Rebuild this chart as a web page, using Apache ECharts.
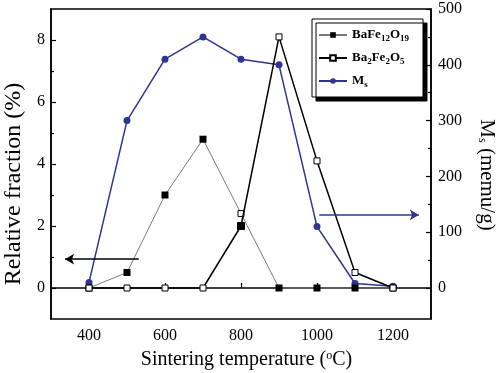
<!DOCTYPE html>
<html>
<head>
<meta charset="utf-8">
<script src="https://cdn.jsdelivr.net/npm/echarts@6/dist/echarts.min.js"></script>
<style>html,body{margin:0;padding:0;background:#fff}#c{width:500px;height:373px}</style>
</head>
<body>
<div id="c"></div>
<script>
// ---- data ----
const temps = [400, 500, 600, 700, 800, 900, 1000, 1100, 1200];
const baFe12O19 = [0, 0.5, 3.0, 4.8, 2.4, 0, 0, 0, 0];
const ba2Fe2O5 = [0, 0, 0, 0, 2.0, 8.1, 4.1, 0.5, 0];
const msValues = [10, 300, 410, 450, 410, 400, 110, 8, 3];
const seriesNames = ['BaFe12O19', 'Ba2Fe2O5', 'Ms'];
const xTicks = [400, 600, 800, 1000, 1200];
const xMinorTicks = [500, 700, 900, 1100];
const leftTicks = [0, 2, 4, 6, 8];
const leftMinorTicks = [1, 3, 5, 7];
const rightTicks = [0, 100, 200, 300, 400, 500];
const rightMinorTicks = [50, 150, 250, 350, 450];
// annotation arrows (data units): [x0, x1, y]
const leftArrow = [531, 337, 0.93];
const rightArrow = [1006, 1268, 131];

const FONT = 'Liberation Serif, Times New Roman, serif';
const BLUE = '#2f3490';
const swapIdx = 4; // markers at 800 drawn swapped in the reference

function pairs(vals, override) {
  return temps.map((t, i) => {
    if (override && i === swapIdx) return Object.assign({ value: [t, vals[i]] }, override);
    return [t, vals[i]];
  });
}

const legendLabels = {
  'BaFe12O19': 'BaFe{s|12}O{s|19}',
  'Ba2Fe2O5': 'Ba{s|2}Fe{s|2}O{s|5}',
  'Ms': 'M{s|s}'
};

const axisLine = { show: true, lineStyle: { color: '#000', width: 1.5 } };
const labelStyle = { color: '#000', fontFamily: FONT, fontSize: 16, formatter: v => String(Math.round(v)) };

const chart = echarts.init(document.getElementById('c'), null, { renderer: 'canvas' });
chart.setOption({
  animation: false,
  backgroundColor: '#fff',
  grid: { left: 51, right: 69, top: 9, bottom: 54, outerBoundsMode: 'none', containLabel: false,
    show: true, borderColor: '#000', borderWidth: 1.5, backgroundColor: 'transparent' },
  legend: {
    orient: 'vertical', left: 312, top: 19,
    itemWidth: 28, itemHeight: 7, itemGap: 7,
    padding: [8, 14, 8, 6],
    backgroundColor: '#fff', borderColor: '#000', borderWidth: 1,
    shadowColor: '#000', shadowOffsetX: 4, shadowOffsetY: 4, shadowBlur: 0,
    data: seriesNames,
    formatter: n => legendLabels[n],
    textStyle: {
      color: '#000', fontFamily: FONT, fontWeight: 'bold', fontSize: 13, lineHeight: 16,
      rich: { s: { fontFamily: FONT, fontWeight: 'bold', fontSize: 9, lineHeight: 9, verticalAlign: 'bottom' } }
    }
  },
  xAxis: [
    {
      type: 'value', min: 300, max: 1300, position: 'bottom',
      axisLine: axisLine,
      axisTick: { inside: true, length: 5, customValues: xTicks, lineStyle: { color: '#000', width: 1.2 } },
      axisLabel: Object.assign({ customValues: xTicks, margin: 9 }, labelStyle),
      splitLine: { show: false },
      name: 'Sintering temperature ({sup|o}C)', nameLocation: 'middle', nameGap: 31,
      nameTextStyle: { color: '#000', fontFamily: FONT, fontSize: 20, padding: [0, 0, 0, 11],
        rich: { sup: { fontFamily: FONT, fontSize: 12, lineHeight: 12, verticalAlign: 'top' } } }
    },
    {
      type: 'value', min: 300, max: 1300, position: 'bottom',
      axisLine: { show: false },
      axisTick: { inside: true, length: 3, customValues: xMinorTicks, lineStyle: { color: '#000', width: 1.2 } },
      axisLabel: { show: false }, splitLine: { show: false }
    }
  ],
  yAxis: [
    {
      type: 'value', min: -1, max: 9, position: 'left',
      axisLine: axisLine,
      axisTick: { inside: true, length: 5, customValues: leftTicks, lineStyle: { color: '#000', width: 1.2 } },
      axisLabel: Object.assign({ customValues: leftTicks, margin: 6 }, labelStyle),
      splitLine: { show: false },
      name: 'Relative fraction (%)', nameLocation: 'middle', nameGap: 25,
      nameTextStyle: { color: '#000', fontFamily: FONT, fontSize: 24, padding: [0, 40, 0, 0] }
    },
    {
      type: 'value', min: -500 / 9, max: 500, position: 'right',
      axisLine: axisLine,
      axisTick: { inside: true, length: 5, customValues: rightTicks, lineStyle: { color: '#000', width: 1.2 } },
      axisLabel: Object.assign({ customValues: rightTicks, margin: 7 }, labelStyle),
      splitLine: { show: false },
      name: 'M{sub|s} (memu/g)', nameLocation: 'middle', nameGap: 45, nameRotate: -90,
      nameTextStyle: { color: '#000', fontFamily: FONT, fontSize: 21, padding: [0, 0, 0, 22],
        rich: { sub: { fontFamily: FONT, fontSize: 12, lineHeight: 12, verticalAlign: 'bottom' } } }
    },
    {
      type: 'value', min: -1, max: 9, position: 'left',
      axisLine: { show: false },
      axisTick: { inside: true, length: 3, customValues: leftMinorTicks, lineStyle: { color: '#000', width: 1.2 } },
      axisLabel: { show: false }, splitLine: { show: false }
    },
    {
      type: 'value', min: -500 / 9, max: 500, position: 'right',
      axisLine: { show: false },
      axisTick: { inside: true, length: 3, customValues: rightMinorTicks, lineStyle: { color: '#000', width: 1.2 } },
      axisLabel: { show: false }, splitLine: { show: false }
    }
  ],
  series: [
    {
      name: 'BaFe12O19', type: 'line', xAxisIndex: 0, yAxisIndex: 0, z: 3,
      data: pairs(baFe12O19, { symbolSize: 6, itemStyle: { color: '#fff', borderColor: '#000', borderWidth: 1 } }),
      symbol: 'rect', symbolSize: 7,
      itemStyle: { color: '#000' },
      lineStyle: { color: '#7a7a7a', width: 1 },
      markLine: {
        silent: true, symbol: ['none', 'arrow'], symbolSize: [8, 9],
        label: { show: false },
        lineStyle: { color: '#000', width: 1.5, type: 'solid' },
        data: [[{ coord: [leftArrow[0], leftArrow[2]] }, { coord: [leftArrow[1], leftArrow[2]] }]]
      }
    },
    {
      name: 'Ba2Fe2O5', type: 'line', xAxisIndex: 0, yAxisIndex: 0, z: 4,
      data: pairs(ba2Fe2O5, { symbolSize: 7, itemStyle: { color: '#000', borderColor: '#000' } }),
      symbol: 'rect', symbolSize: 6,
      itemStyle: { color: '#fff', borderColor: '#000', borderWidth: 1 },
      lineStyle: { color: '#000', width: 1.5 }
    },
    {
      name: 'Ms', type: 'line', xAxisIndex: 0, yAxisIndex: 1, z: 2,
      data: pairs(msValues),
      symbol: 'circle', symbolSize: 7,
      itemStyle: { color: BLUE },
      lineStyle: { color: BLUE, width: 1.5 },
      markLine: {
        silent: true, symbol: ['none', 'arrow'], symbolSize: [8, 9],
        label: { show: false },
        lineStyle: { color: BLUE, width: 1.5, type: 'solid' },
        data: [[{ coord: [rightArrow[0], rightArrow[2]] }, { coord: [rightArrow[1], rightArrow[2]] }]]
      }
    }
  ]
});
</script>
</body>
</html>
